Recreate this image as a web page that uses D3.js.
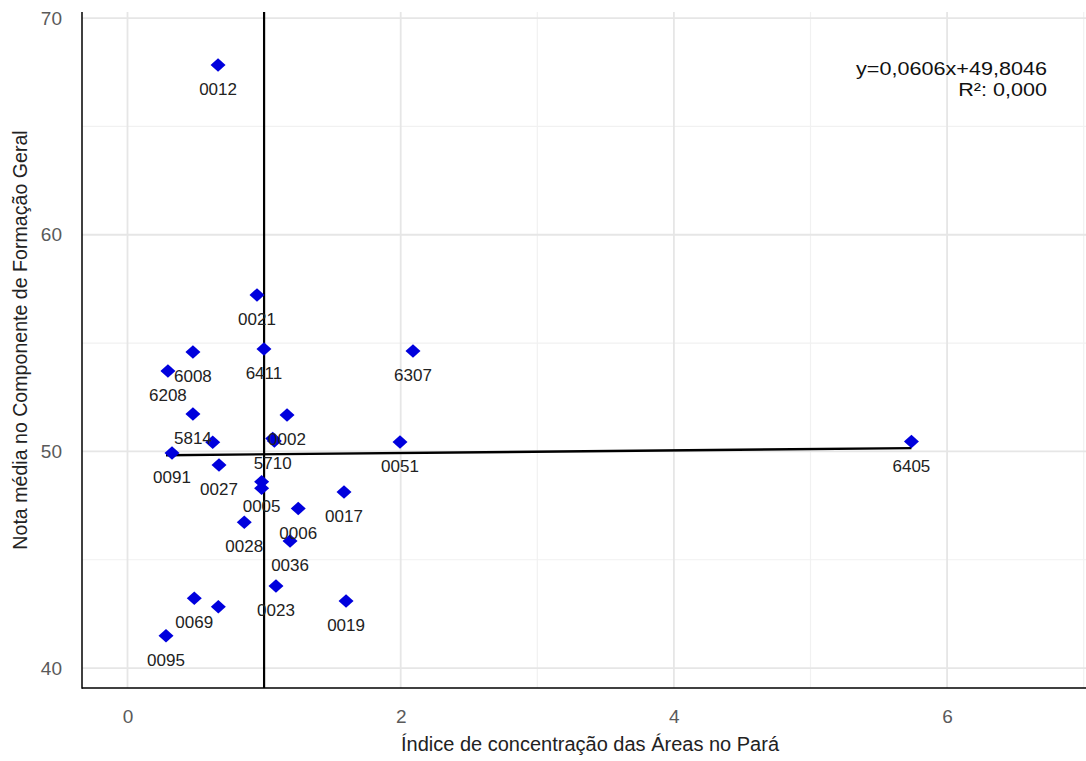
<!DOCTYPE html>
<html>
<head>
<meta charset="utf-8">
<script src="https://cdn.jsdelivr.net/npm/d3@7"></script>
<style>
  html, body { margin: 0; padding: 0; background: #fff; }
  svg { display: block; font-family: "Liberation Sans", Arial, sans-serif; }
</style>
</head>
<body>
<svg id="chart" width="1086" height="761"></svg>
<script>
// ---- data ----
const codes = ["0012","0021","6411","6008","6208","6307","5814","0002","","5710","","0091","0027","0051","6405","0005","","0006","0017","0028","0036","0023","0019","0069","","0095"];
const xValues = [0.663,0.948,0.999,0.479,0.296,2.090,0.479,1.168,0.624,1.063,1.075,0.326,0.670,1.995,5.739,0.982,0.982,1.250,1.585,0.855,1.190,1.087,1.600,0.489,0.665,0.282];
const yValues = [67.83,57.22,54.73,54.59,53.71,54.63,51.73,51.68,50.42,50.60,50.48,49.93,49.37,50.43,50.46,48.60,48.30,47.37,48.13,46.73,45.86,43.79,43.10,43.22,42.83,41.49];
const xTicks = [0, 2, 4, 6];
const xMinorTicks = [1, 3, 5, 7];
const yTicks = [40, 50, 60, 70];
const yMinorTicks = [45, 55, 65];
const regSlope = 0.0606;
const regIntercept = 49.8046;
const refX = 1;
const eqLabel = "y=0,0606x+49,8046";
const r2Label = "R²: 0,000";
const xTitle = "Índice de concentração das Áreas no Pará";
const yTitle = "Nota média no Componente de Formação Geral";

// ---- layout ----
const panel = { left: 82, top: 12, right: 1086, bottom: 688 };
const svg = d3.select("#chart");

const x = d3.scaleLinear().domain([-0.333, 7.017]).range([panel.left, panel.right]);
const y = d3.scaleLinear().domain([39.08, 70.28]).range([panel.bottom, panel.top]);

const data = codes.map((c, i) => ({ code: c, x: xValues[i], y: yValues[i] }));

// grid
const grid = svg.append("g");
grid.selectAll(".ymin").data(yMinorTicks).join("line")
  .attr("x1", panel.left).attr("x2", panel.right)
  .attr("y1", d => y(d)).attr("y2", d => y(d))
  .attr("stroke", "#f1f1f1").attr("stroke-width", 1.2);
grid.selectAll(".xmin").data(xMinorTicks).join("line")
  .attr("y1", panel.top).attr("y2", panel.bottom)
  .attr("x1", d => x(d)).attr("x2", d => x(d))
  .attr("stroke", "#f1f1f1").attr("stroke-width", 1.2);
grid.selectAll(".ymaj").data(yTicks).join("line")
  .attr("x1", panel.left).attr("x2", panel.right)
  .attr("y1", d => y(d)).attr("y2", d => y(d))
  .attr("stroke", "#e6e6e6").attr("stroke-width", 1.8);
grid.selectAll(".xmaj").data(xTicks).join("line")
  .attr("y1", panel.top).attr("y2", panel.bottom)
  .attr("x1", d => x(d)).attr("x2", d => x(d))
  .attr("stroke", "#e6e6e6").attr("stroke-width", 1.8);

// axes
const fmt = d => String(d);
const xAxis = svg.append("g").attr("transform", `translate(0,${panel.bottom})`)
  .call(d3.axisBottom(x).tickValues(xTicks).tickSize(0).tickPadding(22).tickFormat(fmt));
const yAxis = svg.append("g").attr("transform", `translate(${panel.left},0)`)
  .call(d3.axisLeft(y).tickValues(yTicks).tickSize(0).tickPadding(20).tickFormat(fmt));
[xAxis, yAxis].forEach(a => {
  a.attr("font-size", null).attr("font-family", null);
  a.select(".domain").remove();
  a.selectAll("text").attr("fill", "#5a5a5a")
    .style("font-size", "19px")
    .style("font-family", "'Liberation Sans', Arial, sans-serif");
});

// axis lines
svg.append("line").attr("x1", panel.left).attr("x2", panel.left)
  .attr("y1", panel.top).attr("y2", panel.bottom + 0.75)
  .attr("stroke", "#000").attr("stroke-width", 1.5);
svg.append("line").attr("x1", panel.left).attr("x2", panel.right)
  .attr("y1", panel.bottom).attr("y2", panel.bottom)
  .attr("stroke", "#000").attr("stroke-width", 1.5);

// reference vertical line
svg.append("line").attr("x1", x(refX)).attr("x2", x(refX))
  .attr("y1", panel.top).attr("y2", panel.bottom)
  .attr("stroke", "#000").attr("stroke-width", 2.2);

// regression line
const xExt = d3.extent(xValues);
const line = d3.line().x(d => x(d)).y(d => y(regSlope * d + regIntercept));
svg.append("path").datum(xExt).attr("d", line)
  .attr("fill", "none").attr("stroke", "#000").attr("stroke-width", 2.4);

// points
const diamond = "M0,-7.5L7.5,0L0,7.5L-7.5,0Z";
svg.append("g").selectAll("path").data(data).join("path")
  .attr("d", diamond)
  .attr("transform", d => `translate(${x(d.x)},${y(d.y)}) scale(1,0.9)`)
  .attr("fill", "#0000dd");

// labels
svg.append("g").selectAll("text").data(data.filter(d => d.code)).join("text")
  .attr("x", d => x(d.x)).attr("y", d => y(d.y) + 24)
  .attr("dy", "0.36em")
  .attr("text-anchor", "middle")
  .attr("font-size", 17)
  .attr("fill", "#222")
  .text(d => d.code);

// annotation
const ann = svg.append("g").attr("transform", "translate(1047,0) scale(1.2,1)");
ann.append("text").attr("x", 0).attr("y", 75).attr("text-anchor", "end")
  .attr("font-size", 18).attr("fill", "#111").text(eqLabel);
ann.append("text").attr("x", 0).attr("y", 96).attr("text-anchor", "end")
  .attr("font-size", 18).attr("fill", "#111").text(r2Label);

// axis titles
svg.append("text").attr("x", 0).attr("y", 0)
  .attr("transform", `translate(590,751)`)
  .attr("text-anchor", "middle").attr("font-size", 20).attr("fill", "#222")
  .text(xTitle);
svg.append("text").attr("x", 0).attr("y", 0)
  .attr("transform", `translate(27,340) rotate(-90)`)
  .attr("text-anchor", "middle").attr("font-size", 19.6).attr("fill", "#222")
  .text(yTitle);
</script>
</body>
</html>
